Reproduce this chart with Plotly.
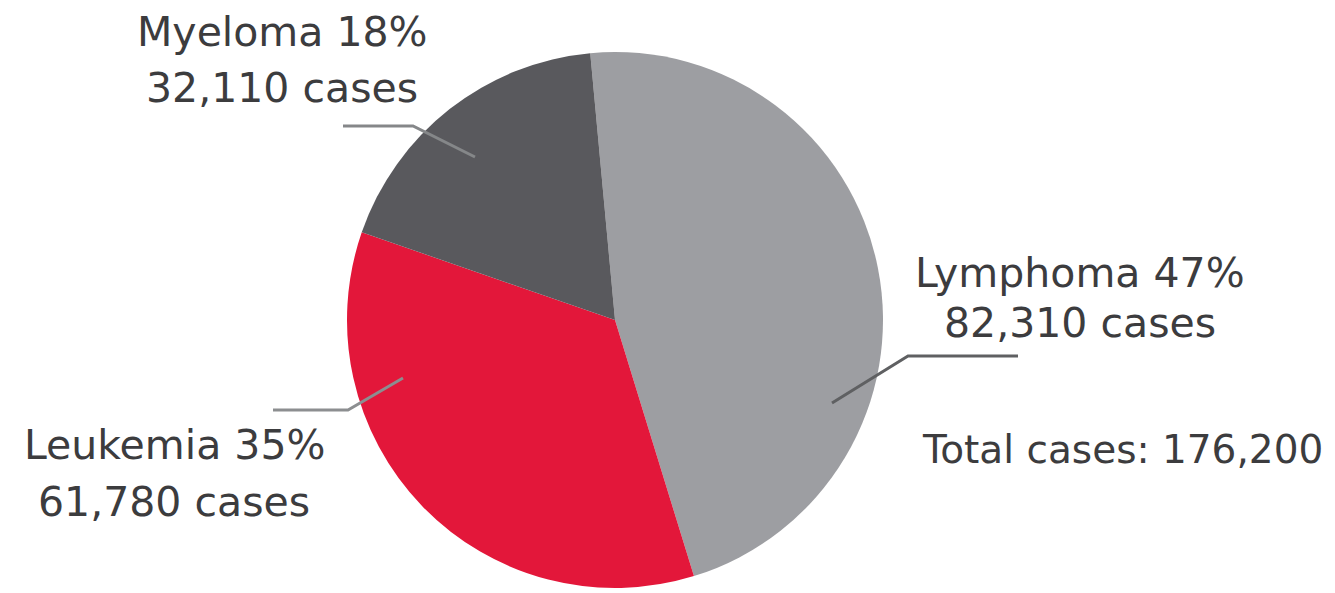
import plotly.graph_objects as go

# data
types = ["Lymphoma", "Leukemia", "Myeloma"]
percents = [47, 35, 18]
cases = [82310, 61780, 32110]
total_cases = 176200

colors = ["#9d9ea2", "#e3173a", "#59595d"]

W, H = 1335, 593


def px(x, y):
    # pixel position -> paper coords
    return x / W, 1 - y / H


fig = go.Figure()

fig.add_trace(
    go.Pie(
        labels=types,
        values=cases,
        sort=False,
        direction="clockwise",
        rotation=-5.3,
        textinfo="none",
        hoverinfo="label+percent+value",
        marker=dict(colors=colors, line=dict(width=0)),
        domain=dict(x=[(615 - 268) / W, (615 + 268) / W],
                    y=[1 - (320 + 268) / H, 1 - (320 - 268) / H]),
        showlegend=False,
    )
)

# -----------------------------
# labels (line 1 / line 2 centre positions in px)
# -----------------------------
label_pos = {
    "Lymphoma": (1080, 273, 323),
    "Leukemia": (174, 445, 502),
    "Myeloma": (282, 32, 88),
}

font = dict(family="DejaVu Sans", size=41, color="#3c3c3e")
annotations = []
for name, pct, n in zip(types, percents, cases):
    cx, y1, y2 = label_pos[name]
    for text, yy in [(f"{name} {pct}%", y1), (f"{n:,} cases", y2)]:
        x, y = px(cx, yy)
        annotations.append(dict(
            x=x, y=y, xref="paper", yref="paper", text=text,
            showarrow=False, xanchor="center", yanchor="middle", font=font,
        ))

x, y = px(1122, 449)
annotations.append(dict(
    x=x, y=y, xref="paper", yref="paper", text=f"Total cases: {total_cases:,}",
    showarrow=False, xanchor="center", yanchor="middle",
    font=dict(family="DejaVu Sans", size=39, color="#3c3c3e"),
))

# -----------------------------
# leader lines
# -----------------------------
leaders = [
    ([(1018, 356), (908, 356), (832, 403)], "#5f6062"),
    ([(273, 410), (348, 410), (403, 378)], "#8c8e90"),
    ([(343, 126), (413, 126), (475, 157)], "#858789"),
]
shapes = []
for pts, col in leaders:
    path = ""
    for i, (a, b) in enumerate(pts):
        x, y = px(a, b)
        path += ("M" if i == 0 else " L") + f" {x} {y}"
    shapes.append(dict(type="path", xref="paper", yref="paper", path=path,
                       line=dict(color=col, width=3)))

fig.update_layout(
    width=W,
    height=H,
    autosize=False,
    margin=dict(l=0, r=0, t=0, b=0),
    paper_bgcolor="white",
    plot_bgcolor="white",
    annotations=annotations,
    shapes=shapes,
)

fig.write_html("out.html",
               config={"displayModeBar": False},
               post_script="document.body.style.margin='0px'; document.body.style.overflow='hidden';")
